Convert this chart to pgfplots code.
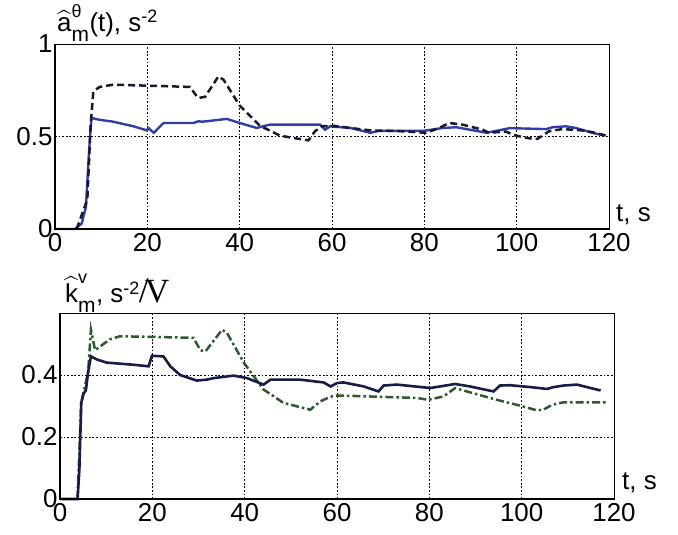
\documentclass[border=0pt]{standalone}
\usepackage{amsmath}
\usepackage{pgfplots}
\pgfplotsset{compat=1.18}
\usepackage{fontspec}
\setmainfont{Liberation Sans}
\newfontfamily\serifV{Liberation Serif}
\definecolor{cblue}{RGB}{48,62,165}
\definecolor{cdash}{RGB}{22,26,48}
\definecolor{cnavy}{RGB}{22,30,70}
\definecolor{cgreen}{RGB}{44,92,44}
\pgfplotsset{
  myax/.style={
    scale only axis, width=554bp,
    xmin=0, xmax=120, xtick={0,20,...,120},
    grid=major,
    major grid style={black, line width=0.8bp, dash pattern=on 1.8bp off 1.8bp},
    axis line style={black, line width=0.9bp},
    major tick length=0pt,
    ticklabel style={font=\fontsize{26}{26}\selectfont},
    /pgf/number format/assume math mode=true,
    xticklabel style={yshift=-1bp},
    yticklabel style={xshift=1bp},
    clip=false,
  }
}
\begin{document}
\begin{tikzpicture}[x=1bp,y=1bp]
\path[use as bounding box] (0,0) rectangle (678,535);
% ---------- top ----------
\begin{axis}[myax, at={(55bp,306bp)}, anchor=south west, height=185bp,
  ymin=0, ymax=1, ytick={0,0.5,1}]
\addplot[cblue, line width=2.4bp] coordinates {
(0,0)(4.3,0)(5.8,0.03)(6.7,0.12)(7.4,0.43)(7.9,0.60)(9.7,0.59)(12.6,0.58)(17,0.555)(19.9,0.533)(20.2,0.546)(21.4,0.52)(23.5,0.573)(30,0.573)(31,0.582)(32,0.58)(37.2,0.595)(40,0.573)(43.7,0.546)(45,0.555)(46.6,0.564)(57.4,0.564)(58.5,0.537)(59.6,0.555)(64,0.546)(68.3,0.52)(70,0.53)(79.7,0.53)(84,0.546)(86.9,0.55)(93.5,0.52)(98.5,0.545)(106.4,0.54)(107.8,0.55)(110.7,0.555)(112.8,0.546)(116.4,0.52)(119,0.505)};
\addplot[cdash, line width=2.5bp, dash pattern=on 7bp off 4bp] coordinates {
(4.7,0)(7,0.16)(7.7,0.555)(8.3,0.744)(9.7,0.768)(12.6,0.78)(29.2,0.768)(31,0.708)(32.5,0.714)(35.4,0.825)(36.5,0.807)(40,0.667)(44.4,0.558)(48.7,0.505)(50.9,0.495)(54.9,0.479)(56.3,0.528)(57.8,0.555)(60.3,0.558)(64,0.546)(68.3,0.533)(74,0.53)(80.4,0.52)(83.2,0.546)(85.4,0.573)(88.3,0.564)(92.6,0.537)(94,0.52)(97.6,0.527)(99.8,0.505)(102.7,0.49)(104.5,0.487)(107,0.528)(109.9,0.54)(114.2,0.533)(117,0.52)(119.3,0.505)};
\draw[black, line width=2.8bp] (rel axis cs:0,1) -- (rel axis cs:0,0) -- (rel axis cs:1,0);
\node[anchor=base west, font=\fontsize{26}{26}\selectfont, inner sep=0pt] at ([shift={(7bp,7bp)}]rel axis cs:1,0) {t, s};
\node[anchor=base west, font=\fontsize{26}{26}\selectfont, inner sep=0pt] at ([shift={(2bp,12bp)}]rel axis cs:0,1) {$\widehat{\text{a}}^{\text{\fontsize{18}{18}\selectfont θ}}_{\raisebox{-3bp}{\text{\fontsize{21}{21}\selectfont m}}}$(t), s$^{\text{\fontsize{18}{18}\selectfont -2}}$};
\end{axis}
% ---------- bottom ----------
\begin{axis}[myax, at={(60bp,36bp)}, anchor=south west, height=186bp,
  ymin=0, ymax=0.6, ytick={0,0.2,0.4},
  yticklabel style={/pgf/number format/.cd, fixed, precision=1, zerofill=false}]
\addplot[cgreen, line width=2.5bp, dash pattern=on 8bp off 3bp on 2.5bp off 3bp] coordinates {
(3.8,0)(4.6,0.31)(6.1,0.41)(6.7,0.546)(7.6,0.48)(8.5,0.49)(10.8,0.515)(13,0.525)(28.9,0.52)(30.4,0.48)(31.5,0.476)(35.1,0.546)(36.2,0.535)(39.8,0.44)(44.1,0.353)(48.4,0.31)(54.2,0.288)(56.4,0.315)(58.6,0.33)(60,0.334)(77.3,0.326)(79.8,0.32)(83.1,0.331)(85.6,0.358)(88.8,0.344)(94.6,0.32)(98.9,0.304)(103.3,0.286)(104.7,0.288)(106.6,0.304)(109.1,0.312)(118.5,0.312)};
\addplot[cnavy, line width=2.6bp] coordinates {
(0,0)(3.8,0)(4.2,0.095)(4.6,0.31)(5.1,0.34)(5.6,0.35)(6.1,0.41)(6.7,0.46)(8,0.45)(10.1,0.44)(15.9,0.433)(19.2,0.428)(19.9,0.462)(22.4,0.46)(23.9,0.428)(26,0.40)(29.6,0.382)(31.8,0.385)(33.3,0.39)(37.6,0.398)(40.5,0.39)(44.1,0.369)(45.6,0.385)(52,0.385)(57.1,0.376)(58.6,0.363)(60,0.374)(61.4,0.376)(65.8,0.363)(69,0.347)(70.1,0.366)(73,0.369)(80.2,0.358)(82.3,0.363)(85.6,0.371)(88.8,0.363)(93.9,0.347)(95.3,0.366)(97.5,0.367)(101.9,0.361)(105.5,0.355)(106.9,0.361)(109.1,0.366)(112,0.369)(114.9,0.358)(117.1,0.35)};
\draw[black, line width=2.8bp] (rel axis cs:0,1) -- (rel axis cs:0,0) -- (rel axis cs:1,0);
\node[anchor=base west, font=\fontsize{26}{26}\selectfont, inner sep=0pt] at ([shift={(8bp,9bp)}]rel axis cs:1,0) {t, s};
\node[anchor=base west, font=\fontsize{26}{26}\selectfont, inner sep=0pt] at ([shift={(5bp,10bp)}]rel axis cs:0,1) {$\widehat{\text{k}}^{\text{\fontsize{18}{18}\selectfont v}}_{\raisebox{-3bp}{\text{\fontsize{21}{21}\selectfont m}}}$, s$^{\text{\fontsize{18}{18}\selectfont -2}}$\kern-1bp\raisebox{0bp}{\fontsize{36}{36}\selectfont\serifV /}\kern-4bp{\fontsize{34}{34}\selectfont\serifV V}};
\end{axis}
\end{tikzpicture}
\end{document}
